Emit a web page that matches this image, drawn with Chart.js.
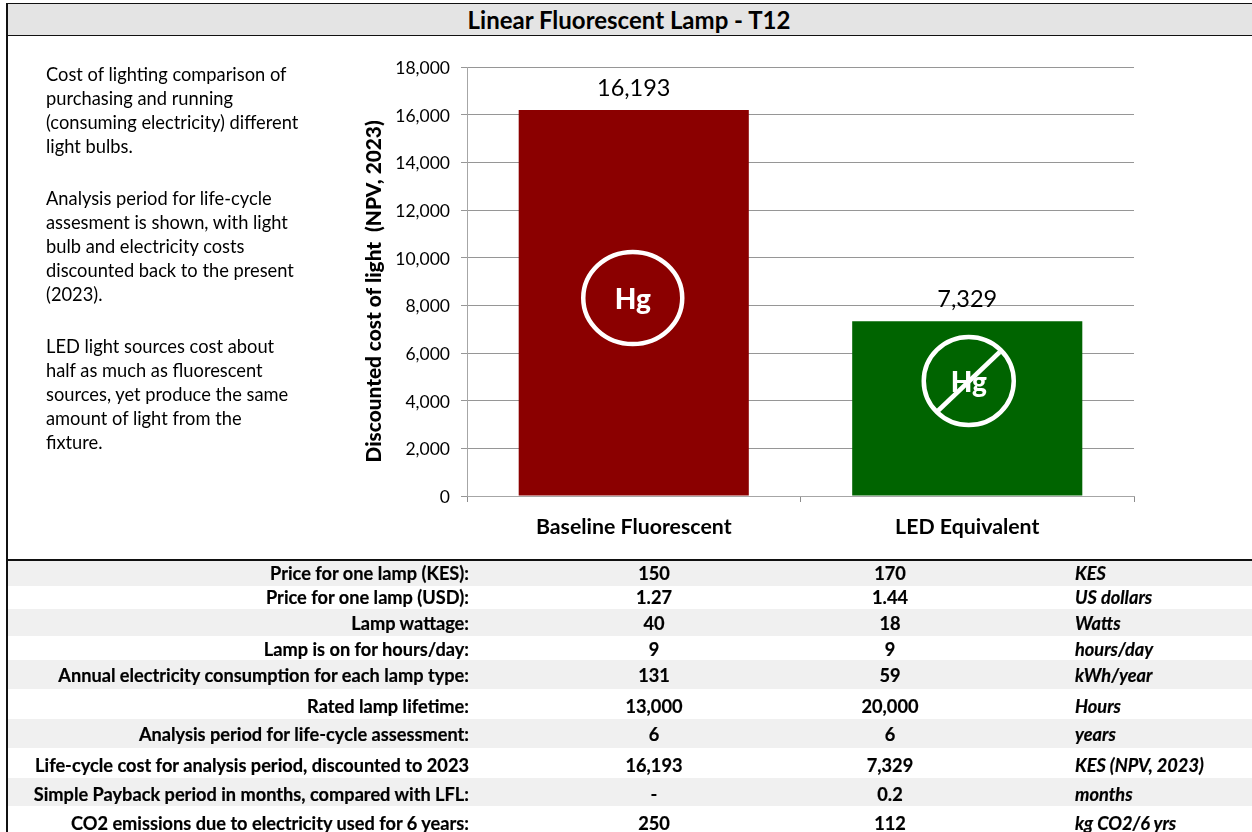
<!DOCTYPE html>
<html><head><meta charset="utf-8">
<script src="https://cdn.jsdelivr.net/npm/chart.js@4"></script>
<style>
html,body{margin:0;padding:0;background:#fff;overflow:hidden}
body{width:1252px;height:832px;position:relative;font-family:Lato,"Open Sans",sans-serif;color:#000}
canvas{position:absolute;left:0;top:0}
#band{position:absolute;left:6px;top:3px;width:1246px;height:31px;background:#e4e4e4;border:solid #111;border-width:1.5px 0 1.5px 0;text-align:center;font-weight:700;font-size:24px;line-height:32px}
#notes{position:absolute;left:46px;top:62px;font-size:18.3px;line-height:24px;white-space:pre}
#notes p{margin:0 0 28px 0}
#table{position:absolute;left:7px;top:560px;width:1245px;display:grid;grid-template-columns:462px 370px 102px 134px 177px;grid-template-rows:26px 23px 27px 24px 29px 30px 29px 30px 28px 34px;font-weight:700;font-size:18.2px;white-space:nowrap;-webkit-text-stroke:0.2px #000}
#table div{line-height:1;display:flex;align-items:center;box-sizing:border-box}
.lab{justify-content:flex-end}.v1,.v2{justify-content:center}.u{font-style:italic}
.g{background:#f0f0f0}
.r2,.r3{padding-top:2px}.r4{padding-top:2px}.r5{padding-top:4px}.r6{padding-top:2px}.r7{padding-top:4px}.r8{padding-top:4px}
#leftline{position:absolute;left:6px;top:3px;width:1.5px;height:829px;background:#111}
#midline{position:absolute;left:6px;top:559px;width:1246px;height:1.5px;background:#111}
</style></head><body>
<canvas id="c" width="1252" height="832"></canvas>
<div id="band"></div>
<div id="notes"></div>
<div id="table"></div>
<div id="leftline"></div><div id="midline"></div>
<script>
const chartTitle = "Linear Fluorescent Lamp - T12";
const categories = ["Baseline Fluorescent", "LED Equivalent"];
const costValues = [16193, 7329];
const barColors = ["#8b0000", "#006400"];
const yAxisTitle = "Discounted cost of light  (NPV, 2023)";
const noteParagraphs = [
 ["Cost of lighting comparison of","purchasing and running","(consuming electricity) different","light bulbs."],
 ["Analysis period for life-cycle","assesment is shown, with light","bulb and electricity costs","discounted back to the present","(2023)."],
 ["LED light sources cost about","half as much as fluorescent","sources, yet produce the same","amount of light from the","fixture."]];
const rowLabels = ["Price for one lamp (KES):","Price for one lamp (USD):","Lamp wattage:","Lamp is on for hours/day:","Annual electricity consumption for each lamp type:","Rated lamp lifetime:","Analysis period for life-cycle assessment:","Life-cycle cost for analysis period, discounted to 2023","Simple Payback period in months, compared with LFL:","CO2 emissions due to electricity used for 6 years:"];
const baselineRow = ["150","1.27","40","9","131","13,000","6","16,193","-","250"];
const ledRow = ["170","1.44","18","9","59","20,000","6","7,329","0.2","112"];
const unitRow = ["KES","US dollars","Watts","hours/day","kWh/year","Hours","years","KES (NPV, 2023)","months","kg CO2/6 yrs"];

document.getElementById('band').textContent = chartTitle;
const notes = document.getElementById('notes');
noteParagraphs.forEach(lines=>{const p=document.createElement('p');p.textContent=lines.join("\n");notes.appendChild(p);});
const t = document.getElementById('table');
rowLabels.forEach((l,i)=>{
  const g = i%2===0?' g':'';
  [['lab',l],['v1',baselineRow[i]],['v2',ledRow[i]],['sp',''],['u',unitRow[i]]].forEach(([k,v])=>{
    const d=document.createElement('div');d.className=k+g+' r'+i;d.textContent=v;t.appendChild(d);
  });
});

const marks = {
  id:'marks',
  afterDatasetsDraw(chart){
    const ctx=chart.ctx, meta=chart.getDatasetMeta(0), y=chart.scales.y;
    ctx.save();
    ctx.textAlign='center';ctx.textBaseline='middle';ctx.fillStyle='#000';
    ctx.font='23.5px Lato, sans-serif';
    meta.data.forEach((b,i)=>{
      ctx.fillText(costValues[i].toLocaleString('en-US'), b.x, b.y-22);
    });
    const base=y.getPixelForValue(0);
    const badge=(cx,cy,rx,ry)=>{
      ctx.strokeStyle='#fff';ctx.lineWidth=4.5;
      ctx.beginPath();ctx.ellipse(cx,cy,rx,ry,0,0,Math.PI*2);ctx.stroke();
      ctx.fillStyle='#fff';ctx.font='900 28px Lato, sans-serif';
      ctx.fillText('Hg',cx,cy+2);
    };
    badge(meta.data[0].x-1,base-198,49.5,46);
    const cx=meta.data[1].x+1.5, cy=base-115;
    badge(cx,cy,45,44);
    ctx.lineWidth=4.5;ctx.beginPath();ctx.moveTo(cx-31,cy+30);ctx.lineTo(cx+31,cy-29);ctx.stroke();
    ctx.restore();
  }
};

new Chart(document.getElementById('c'),{
  type:'bar',
  data:{labels:categories,datasets:[{data:costValues,backgroundColor:barColors,borderWidth:0,barPercentage:0.69,categoryPercentage:1}]},
  plugins:[marks],
  options:{
    responsive:false,animation:false,
    layout:{padding:{left:362,top:67,right:118,bottom:0}},
    plugins:{legend:{display:false},tooltip:{enabled:false},title:{display:false}},
    scales:{
      x:{
        afterFit(s){s.height=336;},
        grid:{drawOnChartArea:false,color:'#8c8c8c',tickLength:6,drawTicks:true},
        border:{color:'#a6a6a6',width:1},
        ticks:{color:'#000',font:{family:'Lato',size:21.3,weight:'700'},padding:12,maxRotation:0}
      },
      y:{
        min:0,max:18000,
        afterFit(s){s.width=105;},
        grid:{color:'#969696',lineWidth:1,tickLength:6},
        border:{color:'#a6a6a6',width:1},
        ticks:{stepSize:2000,color:'#000',font:{family:'Lato',size:17.5},padding:11,labelOffset:1.5,callback:v=>v.toLocaleString('en-US')},
        title:{display:true,text:yAxisTitle+"    ",color:'#000',font:{family:'Lato',size:20.8,weight:'900'},padding:{top:0,bottom:0}}
      }
    }
  }
});
</script>
</body></html>
